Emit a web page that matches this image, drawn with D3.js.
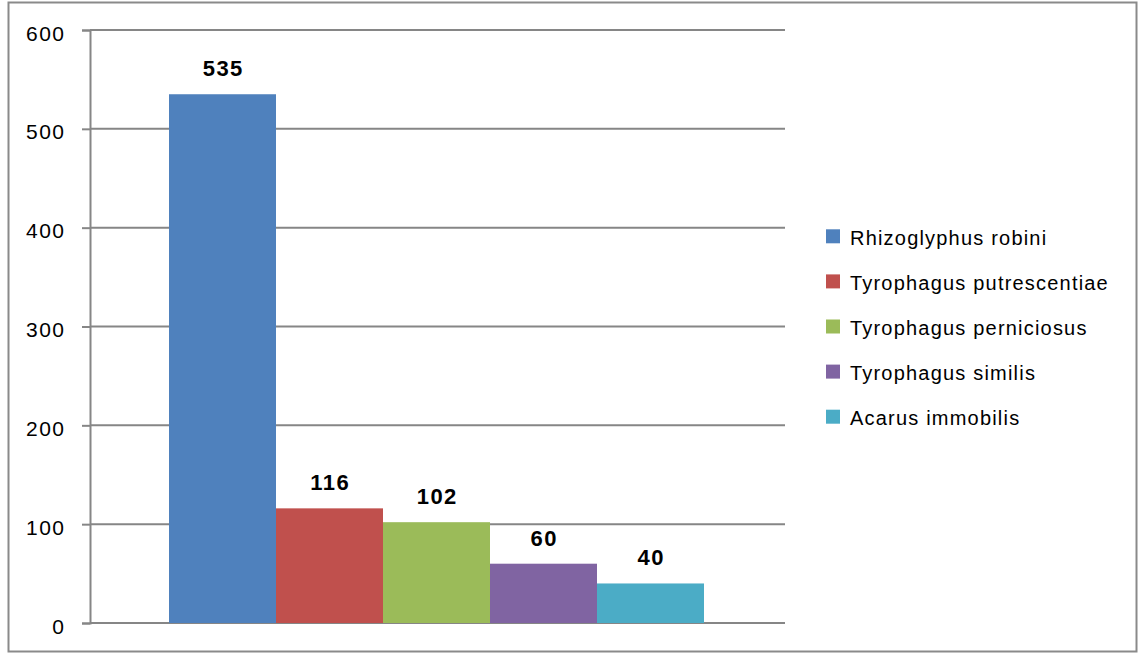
<!DOCTYPE html>
<html>
<head>
<meta charset="utf-8">
<script src="https://cdn.jsdelivr.net/npm/d3@7"></script>
<style>
  html, body { margin: 0; padding: 0; background: #fff; }
  svg { display: block; }
</style>
</head>
<body>
<svg id="chart" width="1139" height="653"></svg>
<script>
// Mite species counts
const species = ["Rhizoglyphus robini", "Tyrophagus putrescentiae", "Tyrophagus perniciosus", "Tyrophagus similis", "Acarus immobilis"];
const counts = [535, 116, 102, 60, 40];
const colors = ["#4F81BD", "#C0504D", "#9BBB59", "#8064A2", "#4BACC6"];
const yTicks = [0, 100, 200, 300, 400, 500, 600];

const svg = d3.select("#chart");
const font = "'Liberation Sans', Arial, sans-serif";

// outer frame
svg.append("rect")
  .attr("x", 8.5).attr("y", 2.5).attr("width", 1128).attr("height", 649)
  .attr("fill", "#fff").attr("stroke", "#8a8a8a").attr("stroke-width", 2);

const plot = { left: 90, right: 785, top: 30, bottom: 623 };

const y = d3.scaleLinear().domain([0, 600]).range([plot.bottom, plot.top]);
const x = d3.scaleBand().domain(species)
  .range([plot.left + 79, plot.right - 81]).paddingInner(0).paddingOuter(0);

// horizontal gridlines
svg.append("g").selectAll("line")
  .data(yTicks)
  .join("line")
  .attr("x1", plot.left).attr("x2", plot.right)
  .attr("y1", d => y(d)).attr("y2", d => y(d))
  .attr("stroke", "#868686").attr("stroke-width", 2);

// y axis
const yAxis = d3.axisLeft(y).tickValues(yTicks).tickSize(8).tickPadding(16.5);
const gy = svg.append("g").attr("transform", `translate(${plot.left},0)`).call(yAxis);
gy.select(".domain").attr("stroke", "#868686").attr("stroke-width", 2);
gy.selectAll(".tick line").attr("stroke", "#868686").attr("stroke-width", 2);
gy.selectAll(".tick text")
  .attr("font-family", font).attr("font-size", 21).attr("fill", "#000")
  .attr("letter-spacing", 1.5)
  .attr("dy", "10px");

// bars
svg.append("g").selectAll("rect")
  .data(species)
  .join("rect")
  .attr("x", d => x(d))
  .attr("width", x.bandwidth())
  .attr("y", (d, i) => y(counts[i]))
  .attr("height", (d, i) => y(0) - y(counts[i]))
  .attr("fill", (d, i) => colors[i]);

// value labels
svg.append("g").selectAll("text")
  .data(species)
  .join("text")
  .attr("x", d => x(d) + x.bandwidth() / 2 + 0.75)
  .attr("y", (d, i) => y(counts[i]) - 18)
  .attr("text-anchor", "middle")
  .attr("font-family", font).attr("font-size", 22).attr("font-weight", "bold")
  .attr("letter-spacing", 1.5)
  .attr("fill", "#000")
  .text((d, i) => counts[i]);

// legend
const legend = svg.append("g").attr("transform", "translate(826,236.3)");
const rows = legend.selectAll("g")
  .data(species)
  .join("g")
  .attr("transform", (d, i) => `translate(0,${i * 45.1})`);
rows.append("rect")
  .attr("x", 0).attr("y", -7).attr("width", 14).attr("height", 14)
  .attr("fill", (d, i) => colors[i]);
rows.append("text")
  .attr("x", 24).attr("y", 8.5)
  .attr("font-family", font).attr("font-size", 20).attr("fill", "#000")
  .attr("letter-spacing", 1.2)
  .text(d => d);
</script>
</body>
</html>
